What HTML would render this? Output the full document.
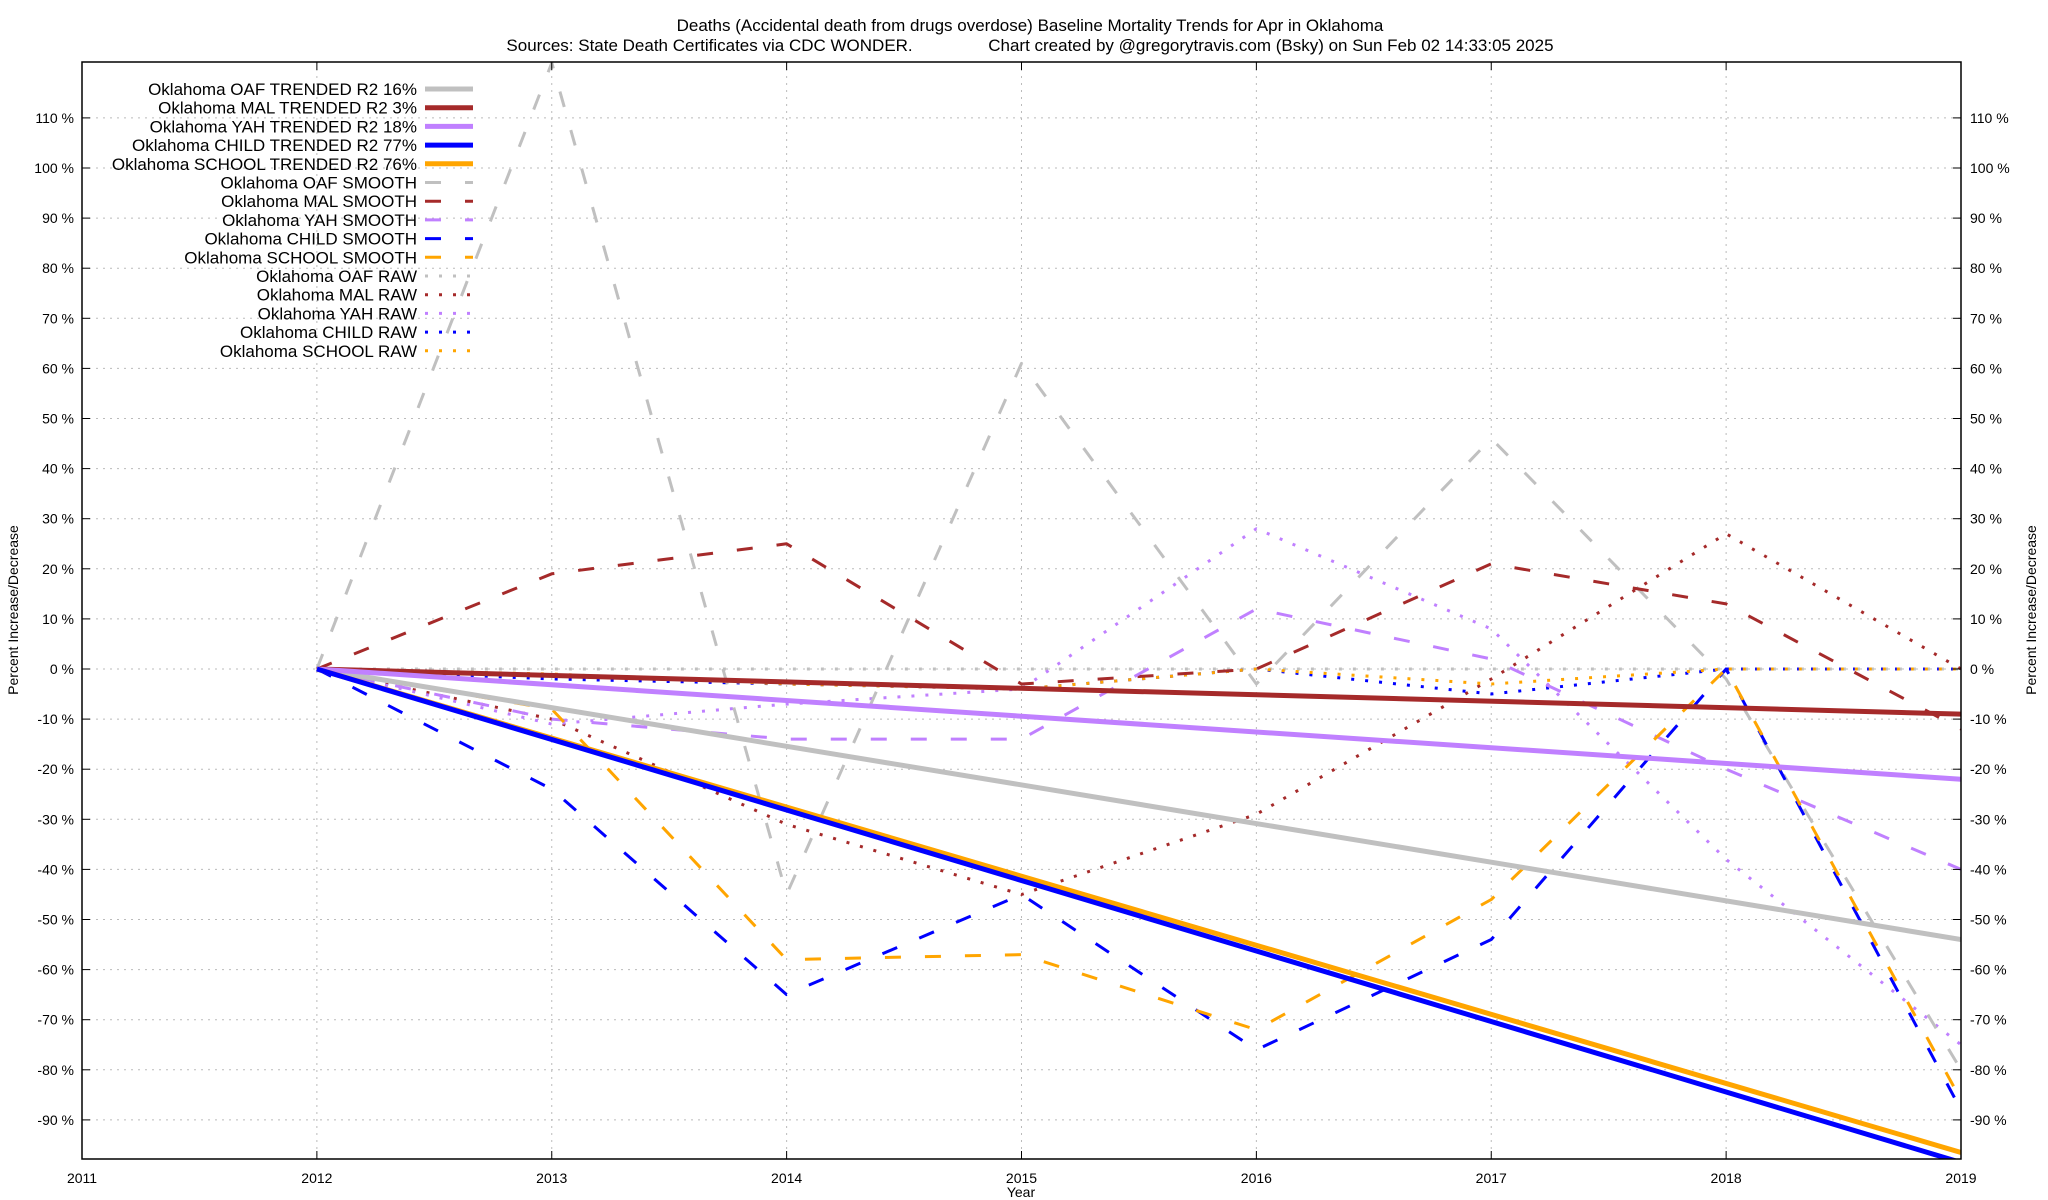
<!DOCTYPE html>
<html><head><meta charset="utf-8"><style>
html,body{margin:0;padding:0;background:#fff;}
svg{display:block;font-family:"Liberation Sans",sans-serif;}
</style></head><body>
<svg id="chart" width="2048" height="1200" viewBox="0 0 2048 1200" xmlns="http://www.w3.org/2000/svg">
<text x="1030" y="31" font-size="17" text-anchor="middle">Deaths (Accidental death from drugs overdose)  Baseline Mortality Trends for Apr in Oklahoma</text>
<text x="1030" y="51" font-size="17" text-anchor="middle" xml:space="preserve">Sources: State Death Certificates via CDC WONDER.                Chart created by @gregorytravis.com (Bsky) on Sun Feb 02 14:33:05 2025</text>
<g id="grid"></g>
<g id="series"></g>
<rect x="82" y="62" width="1879" height="1097" fill="none" stroke="#000" stroke-width="1.5"/>
<g id="axes"></g>
<g id="legend"></g>
<text transform="translate(18,610) rotate(-90)" font-size="14" text-anchor="middle">Percent Increase/Decrease</text>
<text transform="translate(2036,610) rotate(-90)" font-size="14" text-anchor="middle">Percent Increase/Decrease</text>
<text x="1021" y="1197" font-size="14" text-anchor="middle">Year</text>
</svg>
<script>
const years=[2012,2013,2014,2015,2016,2017,2018,2019];
const xTicks=[2011,2012,2013,2014,2015,2016,2017,2018,2019];
const yTicks=[110,100,90,80,70,60,50,40,30,20,10,0,-10,-20,-30,-40,-50,-60,-70,-80,-90];
const trendOAF=[0,-54];
const trendMAL=[0,-9];
const trendYAH=[0,-22];
const trendCHILD=[0,-98.5];
const trendSCHOOL=[0,-96.5];
const smoothOAF=[0,121,-45,61,-3,46,-2,-80];
const smoothMAL=[0,19,25,-3,0,21,13,-12];
const smoothYAH=[0,-10,-14,-14,12,2,-20,-40];
const smoothCHILD=[0,-24,-65,-45,-76,-54,0,-88];
const smoothSCHOOL=[0,-8,-58,-57,-72,-46,0,-86];
const rawOAF=[0,0,0,0,0,0,0,0];
const rawMAL=[0,-10,-31,-45,-29,-2,27,0];
const rawYAH=[0,-11,-7,-4,28,8,-38,-75];
const rawCHILD=[0,-2,-3,-4,0,-5,0,0];
const rawSCHOOL=[0,-1,-3,-4,0,-3,0,0];

const NS="http://www.w3.org/2000/svg";
const X0=82,X1=1961,Y0=62,Y1=1159;
function xs(v){return X0+(v-2011)/(2019-2011)*(X1-X0);}
function ys(v){return 669-v*5.01;}
function mk(tag,attrs,parent){const e=document.createElementNS(NS,tag);for(const k in attrs)e.setAttribute(k,attrs[k]);parent.appendChild(e);return e;}
const grid=document.getElementById('grid'),axes=document.getElementById('axes'),ser=document.getElementById('series'),leg=document.getElementById('legend');
// clip
const defs=mk('defs',{},document.getElementById('chart'));
const cp=mk('clipPath',{id:'pc'},defs);mk('rect',{x:X0,y:Y0,width:X1-X0,height:Y1-Y0},cp);
ser.setAttribute('clip-path','url(#pc)');
yTicks.forEach(t=>{
  const y=ys(t);
  const g=mk('line',{x1:X0,x2:X1,y1:y,y2:y,stroke:'#bbb','stroke-width':1,'stroke-dasharray':'2,5'},grid);
  
  
  mk('line',{x1:X0,x2:X0+8,y1:y,y2:y,stroke:'#000'},axes);
  mk('line',{x1:X1,x2:X1-8,y1:y,y2:y,stroke:'#000'},axes);
  const l=mk('text',{x:74,y:y+5,'font-size':14,'text-anchor':'end'},axes);l.textContent=t+' %';
  
  
  const r=mk('text',{x:1970,y:y+5,'font-size':14},axes);r.textContent=t+' %';
  
  
});
xTicks.forEach(t=>{
  const x=xs(t);
  const g=mk('line',{x1:x,x2:x,y1:Y0,y2:Y1,stroke:'#bbb','stroke-width':1,'stroke-dasharray':'2,5'},grid);
  
  
  mk('line',{x1:x,x2:x,y1:Y1,y2:Y1-8,stroke:'#000'},axes);
  mk('line',{x1:x,x2:x,y1:Y0,y2:Y0+8,stroke:'#000'},axes);
  const l=mk('text',{x:x,y:1183,'font-size':14,'text-anchor':'middle'},axes);l.textContent=t;
  
  
});
const C={OAF:'#c0c0c0',MAL:'#a52a2a',YAH:'#c080ff',CHILD:'#0000ff',SCHOOL:'#ffa500'};
const styles={trend:{w:5,d:''},smooth:{w:3,d:'16,24'},raw:{w:3,d:'3,11'}};
function draw(xv,vals,color,st,name){
  const pts=vals.map((v,i)=>xs(xv[i]).toFixed(1)+','+ys(v).toFixed(1)).join(' ');
  const p=mk('polyline',{points:pts,fill:'none',stroke:color,'stroke-width':styles[st].w,'stroke-linejoin':'round'},ser);
  if(styles[st].d)p.setAttribute('stroke-dasharray',styles[st].d);
  
  
}
const ty=[2012,2019];
['OAF','MAL','YAH','CHILD','SCHOOL'].forEach(k=>draw(years,window['raw'+k]||eval('raw'+k),C[k],'raw','raw-'+k.toLowerCase()+'-line'));
['OAF','MAL','YAH','CHILD','SCHOOL'].forEach(k=>draw(years,eval('smooth'+k),C[k],'smooth','smooth-'+k.toLowerCase()+'-line'));
['OAF','MAL','YAH','SCHOOL','CHILD'].forEach(k=>draw(ty,eval('trend'+k),C[k],'trend','trend-'+k.toLowerCase()+'-line'));
const entries=[
 ['Oklahoma OAF TRENDED R2  16%','OAF','trend'],['Oklahoma MAL TRENDED R2   3%','MAL','trend'],['Oklahoma YAH TRENDED R2  18%','YAH','trend'],
 ['Oklahoma CHILD TRENDED R2  77%','CHILD','trend'],['Oklahoma SCHOOL TRENDED R2  76%','SCHOOL','trend'],
 ['Oklahoma OAF SMOOTH','OAF','smooth'],['Oklahoma MAL SMOOTH','MAL','smooth'],['Oklahoma YAH SMOOTH','YAH','smooth'],['Oklahoma CHILD SMOOTH','CHILD','smooth'],['Oklahoma SCHOOL SMOOTH','SCHOOL','smooth'],
 ['Oklahoma OAF RAW','OAF','raw'],['Oklahoma MAL RAW','MAL','raw'],['Oklahoma YAH RAW','YAH','raw'],['Oklahoma CHILD RAW','CHILD','raw'],['Oklahoma SCHOOL RAW','SCHOOL','raw']];
entries.forEach((e,i)=>{
  const y=89+i*18.7;
  const t=mk('text',{x:417,y:y+6,'font-size':17,'text-anchor':'end','xml:space':'preserve'},leg);
  t.textContent=e[0];
  
  
  const l=mk('line',{x1:425,x2:473,y1:y,y2:y,stroke:C[e[1]],'stroke-width':styles[e[2]].w},leg);
  if(styles[e[2]].d)l.setAttribute('stroke-dasharray',styles[e[2]].d);
  
  
});
</script>
</body></html>
